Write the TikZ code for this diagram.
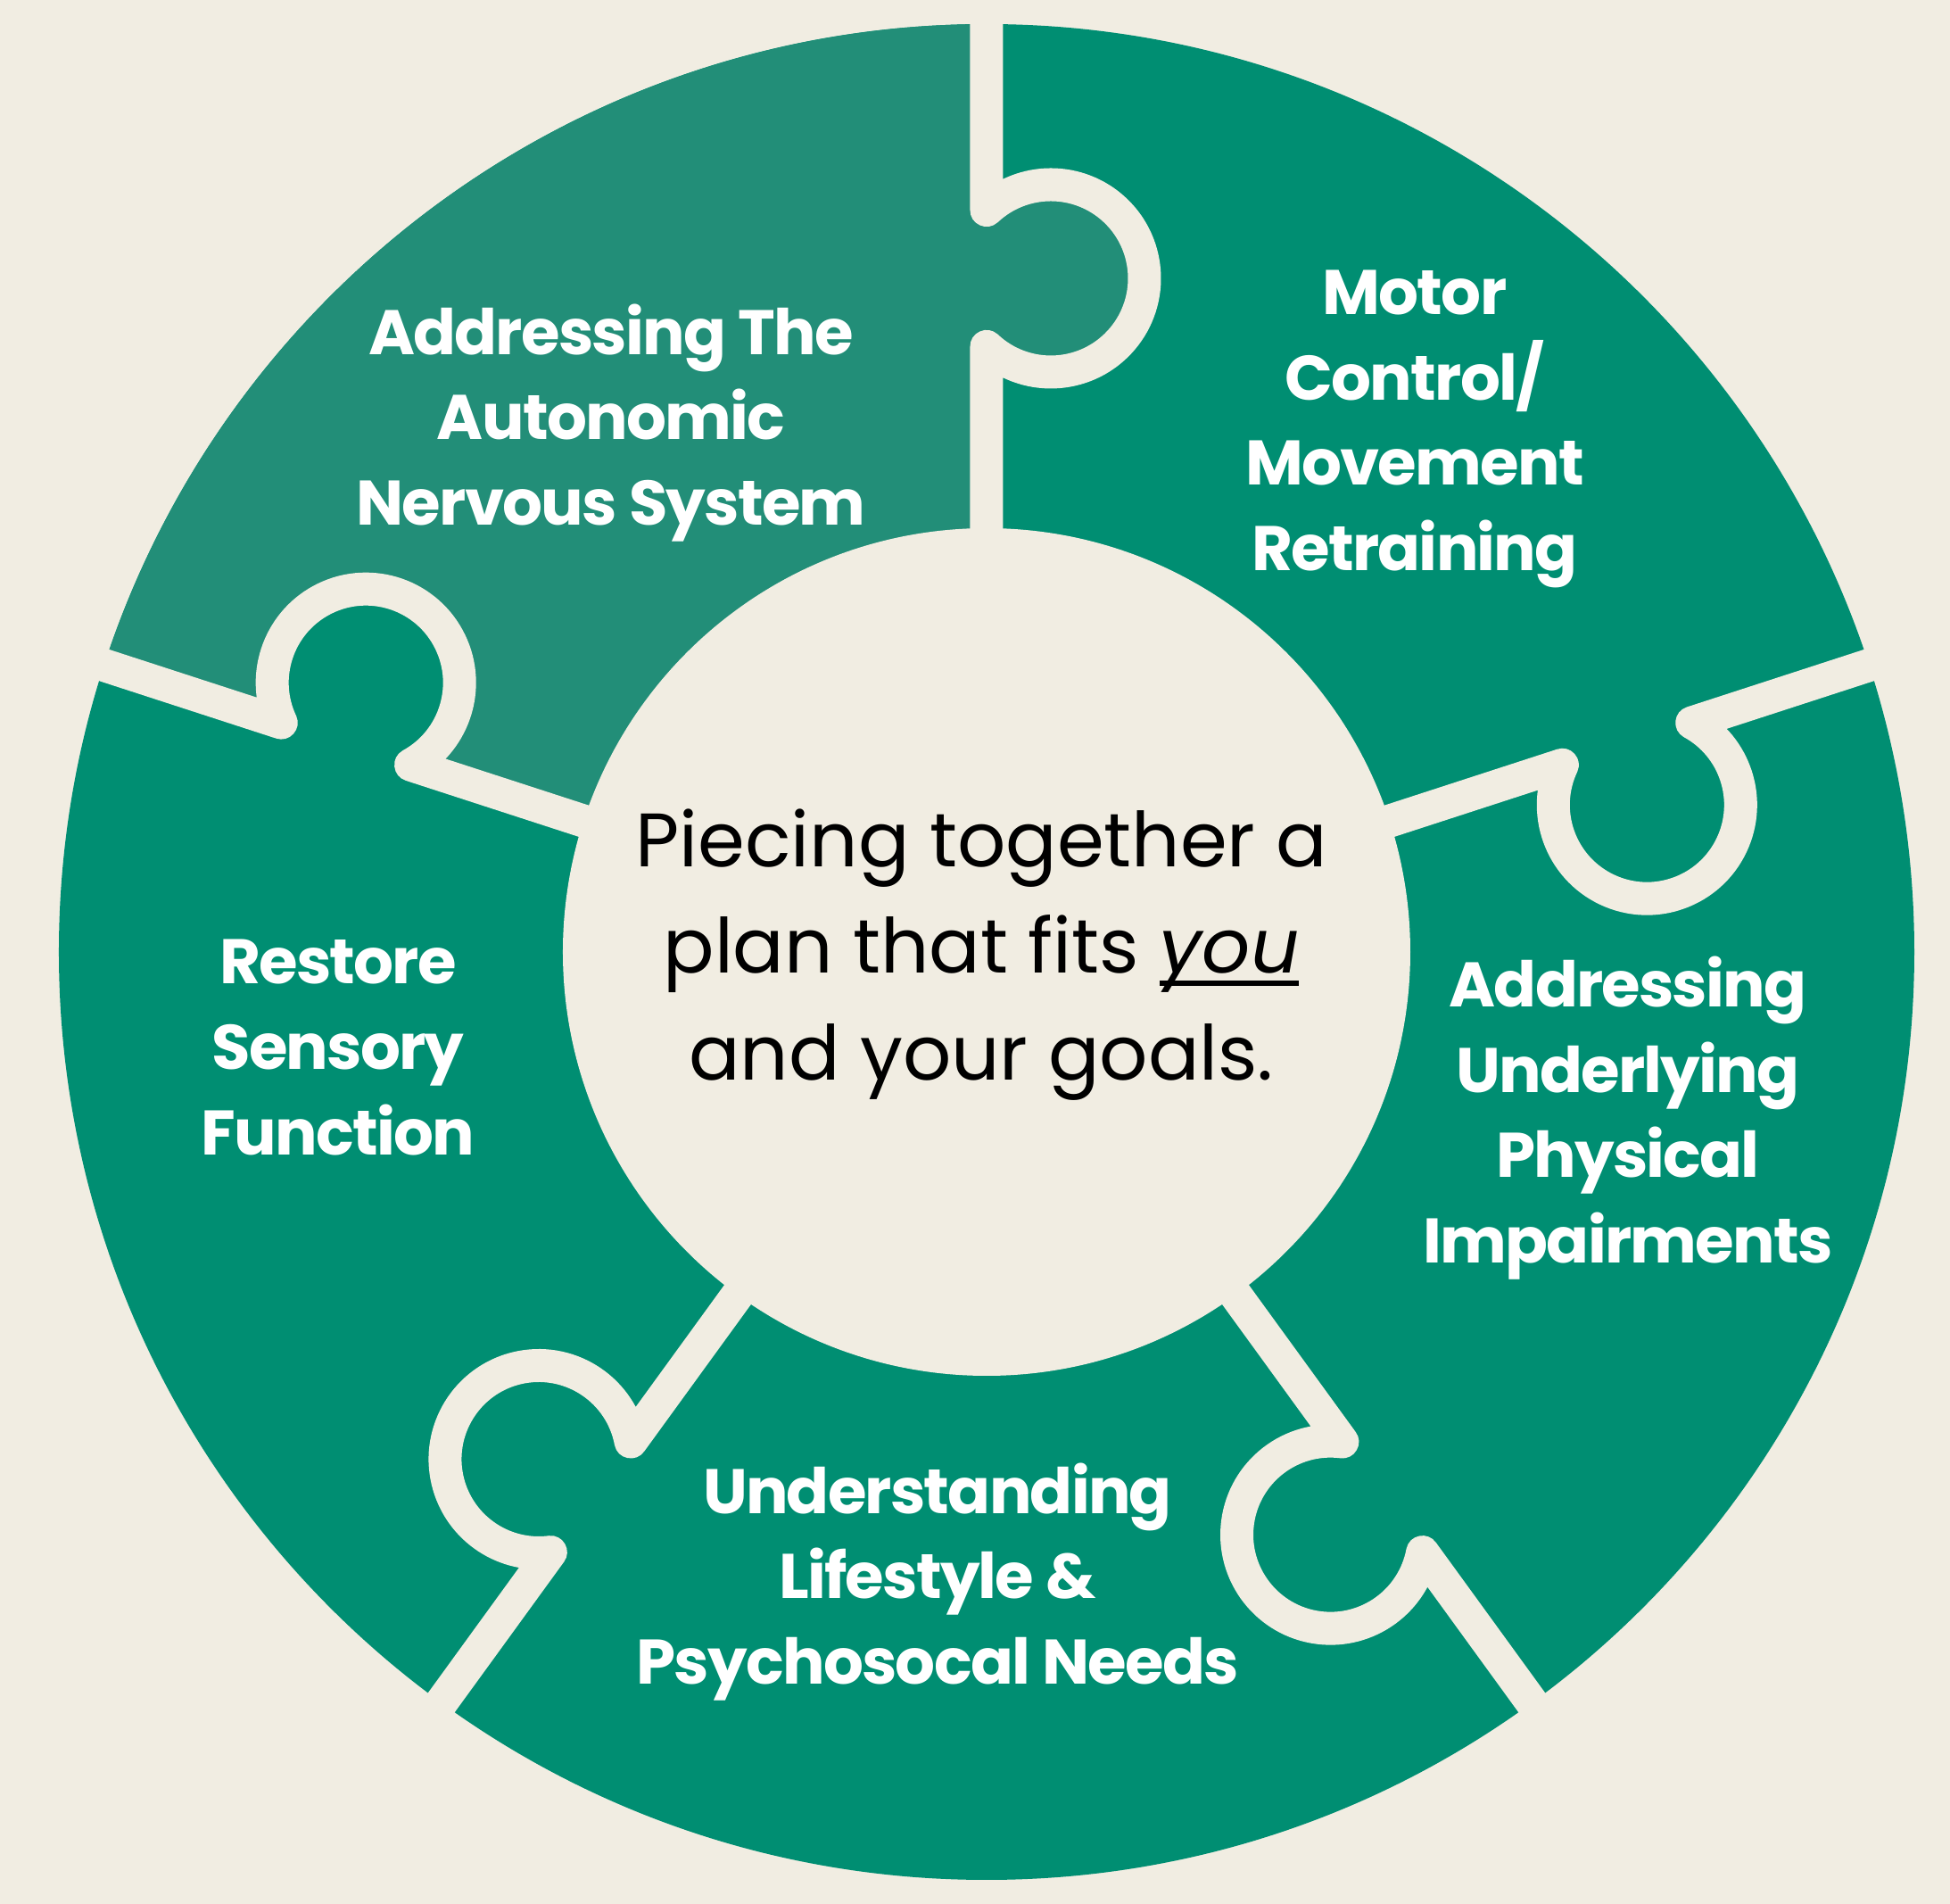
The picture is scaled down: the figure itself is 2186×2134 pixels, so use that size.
\documentclass[tikz,border=0pt]{standalone}
\usepackage{fontspec}
\setmainfont{Poppins}
\newfontfamily\piecefont[LetterSpace=-2.5]{Poppins}
\usetikzlibrary{positioning}
\definecolor{cream}{RGB}{241,237,226}
\definecolor{piecegreen}{RGB}{0,142,114}
\definecolor{palegreen}{RGB}{34,142,120}
% one cut between two pieces, knob turned clockwise
\newcommand{\cutpath}[1]{(#1:470) -- (#1:678.6) arc[start angle=#1+136.7, end angle=#1+403.3, radius=105] -- (#1:1070)}
\newcommand{\ulword}[1]{\setbox0\hbox{#1}\rlap{\rule[-7pt]{\wd0}{2.8pt}}\box0}

\begin{document}
\begin{tikzpicture}[x=0.5pt, y=0.5pt,
    cut/.style={draw=cream, line width=18.5pt, line join=round},
    piecelabel/.style={align=center, text=white, font=\piecefont\bfseries\fontsize{35.3}{47.8}\selectfont},
    hubtext/.style={align=center, text=black, font=\fontsize{42.5}{59.6}\selectfont}
]
\useasboundingbox[fill=cream] (-1106,-1067) rectangle (1080,1067);
\fill[piecegreen] (0,0) circle[radius=1040];
% the top left piece is a shade lighter
\fill[palegreen] (90:470) -- (90:678.6) arc[start angle=226.7, end angle=493.3, radius=105]
    -- (90:1040) arc[start angle=90, end angle=162, radius=1040]
    -- (162:831.4) arc[start angle=205.3, end angle=-61.3, radius=105]
    -- (162:470) arc[start angle=162, end angle=90, radius=470] -- cycle;
\foreach \a in {90,162,234,306,18}
    \draw[cut] \cutpath{\a};
\fill[cream] (0,0) circle[radius=475];

\node[piecelabel] (autonomic) at (-421,593) {Addressing The\\Autonomic\\Nervous System};
\node[piecelabel] (motor) at (480,586) {Motor\\Control/\\Movement\\Retraining};
\node[piecelabel] (physical) at (719,-186) {Addressing\\Underlying\\Physical\\Impairments};
\node[piecelabel] (lifestyle) at (-55,-706) {Understanding\\Lifestyle \&\\Psychosocal Needs};
\node[piecelabel] (sensory) at (-727,-107) {Restore\\Sensory\\Function};
\node[hubtext] (hub) at (-6,-3) {Piecing together a\\plan that fits \ulword{\textit{you}}\\and your goals.};
\end{tikzpicture}
\end{document}
